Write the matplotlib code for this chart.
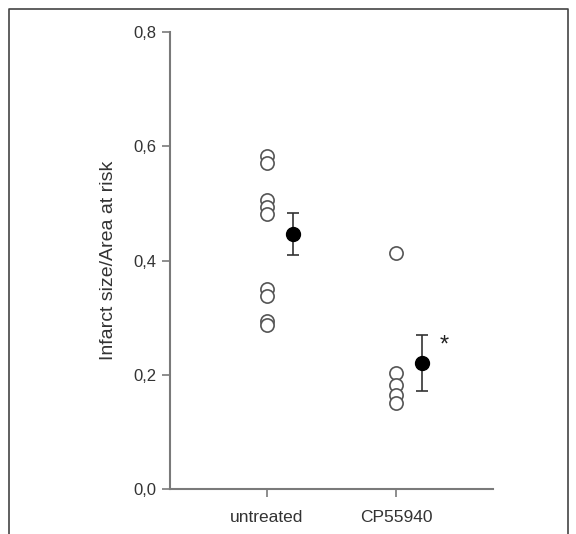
import matplotlib
matplotlib.use('Agg')
from matplotlib import pyplot as plt
from matplotlib.lines import Line2D

plt.rcParams['font.family'] = ['Liberation Sans', 'DejaVu Sans']

groups = ['untreated', 'CP55940']
untreated = [0.583, 0.571, 0.506, 0.494, 0.481, 0.350, 0.338, 0.294, 0.287]
cp55940 = [0.414, 0.203, 0.182, 0.165, 0.151]
means = [0.446, 0.221]
err_low = [0.036, 0.049]
err_high = [0.038, 0.049]
yticks = [0.0, 0.2, 0.4, 0.6, 0.8]
ytick_labels = ['0,0', '0,2', '0,4', '0,6', '0,8']

grey = '#7a7a7a'
txt = '#333333'

fig = plt.figure(figsize=(5.76, 5.34), dpi=100)
ax = fig.add_axes([0.295, 0.084, 0.561, 0.856])

ax.plot([1] * len(untreated), untreated, 'o', ms=9.5, mfc='white', mec='#555555', mew=1.2)
ax.plot([2] * len(cp55940), cp55940, 'o', ms=9.5, mfc='white', mec='#555555', mew=1.2)
ax.errorbar([1.2, 2.2], means, yerr=[err_low, err_high], fmt='o', ms=10,
            color='black', ecolor='#333333', elinewidth=1.2, capsize=4, capthick=1.2)
ax.text(2.37, 0.252, '*', fontsize=17, ha='center', va='center', color='#222222')

ax.set_xlim(0.25, 2.75)
ax.set_ylim(0, 0.8)
ax.set_xticks([1, 2])
ax.set_xticklabels(groups, fontsize=12.5, color=txt)
ax.set_yticks(yticks)
ax.set_yticklabels(ytick_labels, fontsize=12, color=txt)
ax.set_ylabel('Infarct size/Area at risk', fontsize=14, color=txt, labelpad=12)

for s in ['top', 'right']:
    ax.spines[s].set_visible(False)
for s in ['left', 'bottom']:
    ax.spines[s].set_color(grey)
    ax.spines[s].set_linewidth(1.5)
ax.tick_params(colors=grey, width=1.2, length=6, labelcolor=txt)
ax.tick_params(axis='x', pad=9)

# outer frame, open at the bottom
x0, x1 = 9 / 576, 568 / 576
y1 = 1 - 9 / 534
fig.add_artist(Line2D([x0, x0, x1, x1], [0, y1, y1, 0], color='#444444', lw=1.2))

fig.savefig('out.png', dpi=100)
